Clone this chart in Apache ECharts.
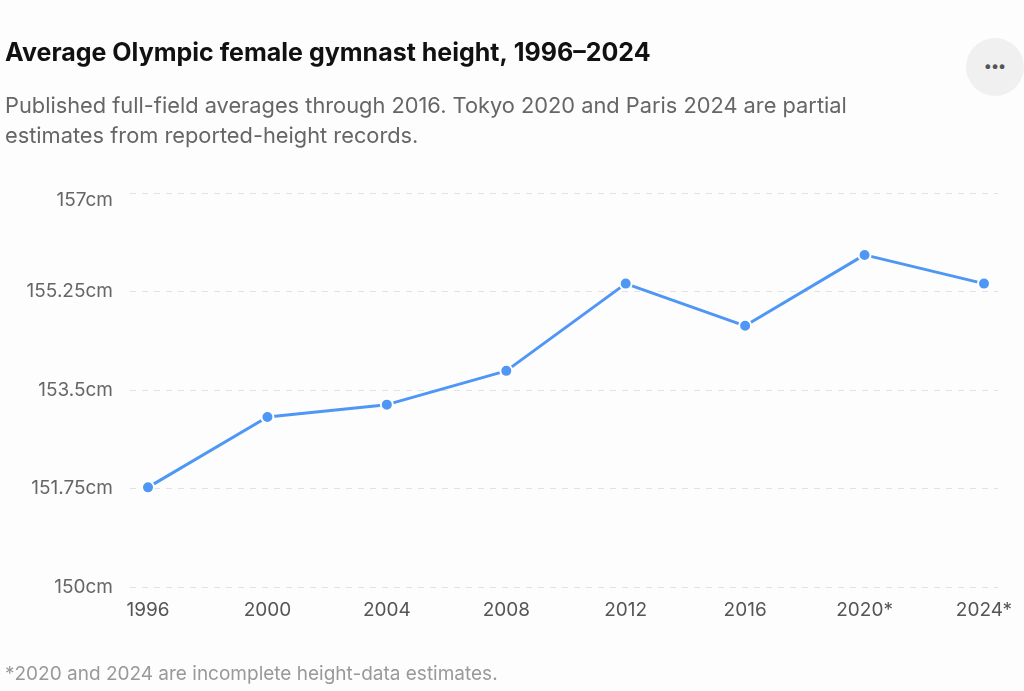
<!DOCTYPE html>
<html>
<head>
<meta charset="utf-8">
<script src="https://cdn.jsdelivr.net/npm/echarts@6/dist/echarts.min.js"></script>
<style>
  html, body { margin: 0; padding: 0; background: #fdfdfd; }
  #chart { width: 1024px; height: 691px; }
  .more {
    position: absolute; left: 966px; top: 38px; width: 58px; height: 58px;
    border-radius: 50%; background: #f0f0f0; color: #555;
    font: bold 15px Inter, sans-serif; text-align: center; line-height: 56px;
  }
</style>
</head>
<body>
<div id="chart"></div>
<div class="more">•••</div>
<script>
// Olympic games and average heights (cm)
const years = ['1996', '2000', '2004', '2008', '2012', '2016', '2020*', '2024*']
const heights = [151.77, 153.02, 153.24, 153.84, 155.39, 154.64, 155.9, 155.39]
const yMin = 150
const yMax = 157
const yStep = 1.75

const font = 'Inter, "Noto Sans", sans-serif'
const chart = echarts.init(document.getElementById('chart'))

chart.setOption({
  backgroundColor: '#fdfdfd',
  animation: false,
  title: [
    {
      text: 'Average Olympic female gymnast height, 1996–2024',
      left: 0, top: 36,
      textStyle: { fontFamily: font, fontSize: 25, fontWeight: 'bold', color: '#111' }
    },
    {
      text: 'Published full-field averages through 2016. Tokyo 2020 and Paris 2024 are partial\nestimates from reported-height records.',
      left: 0, top: 86,
      textStyle: { fontFamily: font, fontSize: 21.8, fontWeight: 'normal', color: '#666', lineHeight: 30 }
    },
    {
      text: '*2020 and 2024 are incomplete height-data estimates.',
      left: 0, top: 660,
      textStyle: { fontFamily: font, fontSize: 19, fontWeight: 'normal', color: '#999' }
    }
  ],
  grid: [
    { left: 148, right: 40, top: 193, bottom: 104 },
    { left: 130, right: 26, top: 193, bottom: 104 }
  ],
  xAxis: [
    {
      type: 'category', gridIndex: 0, data: years, boundaryGap: false,
      axisLine: { show: false }, axisTick: { show: false },
      axisLabel: { fontFamily: font, fontSize: 19, color: '#555', margin: 14, interval: 0 }
    },
    { type: 'value', gridIndex: 1, show: false }
  ],
  yAxis: [
    { type: 'value', gridIndex: 0, min: yMin, max: yMax, interval: yStep, show: false },
    {
      type: 'value', gridIndex: 1, min: yMin, max: yMax, interval: yStep,
      axisLine: { show: false }, axisTick: { show: false },
      axisLabel: {
        fontFamily: font, fontSize: 19, color: '#666', margin: 17,
        formatter: v => v === yMax ? '{top|' + v + 'cm}' : v + 'cm',
        rich: { top: { fontFamily: font, fontSize: 19, color: '#666', padding: [14, 0, 0, 0] } }
      },
      splitLine: { lineStyle: { color: '#e2e2e2', type: [6, 6], width: 1 } }
    }
  ],
  series: [{
    type: 'line',
    xAxisIndex: 0, yAxisIndex: 0,
    data: heights,
    symbol: 'circle', symbolSize: 12,
    lineStyle: { color: '#4f97f5', width: 3 },
    itemStyle: { color: '#4f97f5', borderColor: '#fff', borderWidth: 2 }
  }]
})
</script>
</body>
</html>
